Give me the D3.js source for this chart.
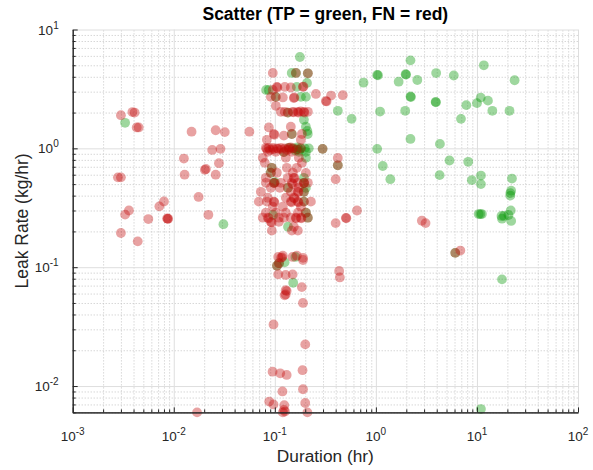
<!DOCTYPE html>
<html lang="en">
<head>
<meta charset="UTF-8">
<title>Scatter (TP = green, FN = red)</title>
<script src="https://d3js.org/d3.v7.min.js"></script>
<style>
    body {
        margin: 0;
        background: #fff;
        font-family: "Liberation Sans", Arial, Helvetica, sans-serif;
    }
    .grid path { display: none; }
    .grid-major line { stroke: #dedede; }
    .grid-minor line { stroke: #c4c4c4; stroke-dasharray: 1,2; }
    .axis path, .axis line { stroke: #262626; }
    text { fill: #262626; }
</style>
</head>
<body>
<div id="chart"></div>
<script>
// axis limits and decade tick exponents
const xLimits = [0.001, 100];
const yLimits = [0.006, 10];
const xDecades = [-3, -2, -1, 0, 1, 2];
const yDecades = [-2, -1, 0, 1];

// true positives: [duration (hr), leak rate (kg/hr)]
const tpPoints = [
    [0.0033, 1.64], [0.031, 0.23],
    [0.177, 5.87],
    [0.147, 4.31], [0.162, 4.31], [0.212, 4.28],
    [0.208, 3.55], [0.165, 3.29],
    [0.082, 3.10], [0.087, 3.10],
    [0.102, 2.71], [0.181, 2.71], [0.203, 2.71],
    [0.135, 2.00],
    [0.194, 1.74], [0.203, 1.52], [0.210, 1.40], [0.212, 1.32],
    [0.147, 1.32],
    [0.138, 1.01], [0.151, 1.00], [0.165, 0.98], [0.167, 1.02], [0.181, 1.00], [0.198, 1.00], [0.217, 1.00],
    [0.160, 0.96], [0.175, 0.97],
    [0.123, 0.93], [0.173, 0.935], [0.203, 0.935],
    [0.203, 0.832],
    [0.093, 0.686], [0.091, 0.623],
    [0.194, 0.565],
    [0.098, 0.513], [0.194, 0.513], [0.100, 0.52],
    [0.135, 0.466], [0.203, 0.466],
    [0.194, 0.431], [0.194, 0.356], [0.203, 0.287],
    [0.096, 0.275], [0.212, 0.261],
    [0.135, 0.219],
    [0.160, 0.122], [0.125, 0.110], [0.110, 0.108], [0.105, 0.103], [0.152, 0.074],
    [0.297, 0.99], [0.42, 2.07], [0.575, 1.77], [0.42, 0.72],
    [0.755, 3.57], [1.03, 4.15], [1.05, 4.12], [1.97, 4.20], [1.99, 4.17], [2.2, 5.5],
    [3.95, 4.30], [5.9, 4.10], [1.68, 3.64], [2.57, 3.76],
    [2.2, 2.73], [2.22, 2.70], [3.9, 2.46], [3.93, 2.44], [7.85, 2.31],
    [10.0, 2.40], [10.9, 2.67], [12.85, 2.52], [11.7, 5.0], [23.6, 3.74],
    [14.2, 2.07], [21.0, 2.07], [1.1, 2.04], [1.95, 2.07], [6.95, 1.77],
    [2.2, 1.20], [4.3, 1.09], [1.03, 0.99],
    [5.35, 0.79], [8.2, 0.77], [1.17, 0.71], [1.39, 0.55], [4.27, 0.595], [8.9, 0.54],
    [10.95, 0.59], [10.95, 0.50], [22.2, 0.557],
    [21.4, 0.42], [21.4, 0.40], [21.8, 0.44], [21.6, 0.30],
    [10.4, 0.28], [10.8, 0.28], [11.2, 0.28],
    [17.5, 0.27], [18.5, 0.27], [20.5, 0.275], [17.7, 0.256], [21.8, 0.245],
    [6.1, 0.132], [17.7, 0.079], [10.95, 0.0064]
];

// false negatives: [duration (hr), leak rate (kg/hr)]
const fnPoints = [
    [0.0030, 1.90], [0.0039, 2.02], [0.0041, 2.00], [0.0043, 1.50], [0.0045, 1.50],
    [0.015, 1.38], [0.026, 1.42], [0.032, 1.37], [0.056, 1.38],
    [0.024, 0.97], [0.029, 0.99], [0.0126, 0.82], [0.028, 0.75],
    [0.0203, 0.66], [0.0208, 0.67], [0.026, 0.60], [0.0128, 0.60],
    [0.0028, 0.57], [0.0030, 0.57], [0.0176, 0.39], [0.0080, 0.357], [0.0072, 0.325],
    [0.0036, 0.30], [0.0033, 0.277], [0.0056, 0.254],
    [0.0086, 0.257], [0.0087, 0.255], [0.0088, 0.256],
    [0.022, 0.276], [0.0030, 0.194], [0.0044, 0.165], [0.017, 0.006],
    [0.32, 2.50], [0.325, 2.48], [0.36, 2.78], [0.47, 2.80], [0.255, 2.87],
    [0.42, 0.83], [0.42, 0.72], [0.297, 0.99], [0.40, 0.55],
    [0.40, 0.235], [0.505, 0.26], [0.51, 0.258], [0.65, 0.30],
    [2.85, 0.246], [3.1, 0.235], [6.1, 0.132], [6.85, 0.138],
    [0.433, 0.093], [0.44, 0.082],
    [0.097, 0.033], [0.20, 0.0224], [0.188, 0.0136], [0.095, 0.0132], [0.113, 0.0128], [0.131, 0.0124],
    [0.119, 0.0090], [0.19, 0.0094], [0.088, 0.0074], [0.097, 0.0070], [0.124, 0.0069], [0.20, 0.0072],
    [0.123, 0.0063], [0.120, 0.0060], [0.126, 0.0061], [0.21, 0.0060],
    [0.185, 0.068], [0.19, 0.050], [0.128, 0.064], [0.131, 0.063], [0.128, 0.059], [0.125, 0.058],
    [0.128, 0.086], [0.15, 0.087], [0.108, 0.087],
    [0.108, 0.122], [0.115, 0.120], [0.120, 0.125], [0.118, 0.121], [0.11, 0.108],
    [0.15, 0.122], [0.165, 0.125], [0.19, 0.115], [0.19, 0.120], [0.105, 0.103],
    [0.0955, 4.31], [0.1615, 4.31], [0.2124, 4.28],
    [0.1047, 3.29], [0.106, 3.25], [0.1256, 3.29], [0.144, 3.25], [0.1895, 3.29], [0.192, 3.31],
    [0.0955, 3.10],
    [0.0913, 2.71], [0.1023, 2.71], [0.12, 2.68], [0.1542, 2.65], [0.156, 2.68],
    [0.1023, 2.28],
    [0.1147, 2.03], [0.1256, 2.03], [0.1345, 2.0], [0.1508, 2.03], [0.153, 2.01],
    [0.169, 2.03], [0.171, 2.0], [0.1938, 2.03], [0.196, 2.0], [0.2124, 2.03], [0.180, 2.05],
    [0.144, 1.52], [0.0873, 1.50],
    [0.0977, 1.32], [0.099, 1.30], [0.1474, 1.32], [0.1852, 1.32], [0.1228, 1.28],
    [0.0834, 1.18], [0.181, 1.18],
    [0.0815, 1.01], [0.083, 0.99], [0.0873, 1.01], [0.0955, 1.01], [0.097, 0.98], [0.1047, 1.0],
    [0.1147, 1.01], [0.116, 0.98], [0.1256, 1.0], [0.1376, 1.01], [0.139, 0.98], [0.1508, 1.0],
    [0.1652, 0.98], [0.181, 1.0], [0.090, 0.97], [0.108, 0.99], [0.131, 0.97], [0.143, 1.02],
    [0.0853, 0.935], [0.1023, 0.935], [0.1228, 0.93], [0.1474, 0.935],
    [0.076, 0.832], [0.1285, 0.832], [0.1729, 0.832],
    [0.0796, 0.755], [0.1852, 0.755],
    [0.0934, 0.686], [0.1315, 0.686], [0.1652, 0.686],
    [0.0913, 0.623], [0.1047, 0.623], [0.1508, 0.623], [0.2029, 0.62],
    [0.0815, 0.565], [0.1345, 0.565], [0.1542, 0.565], [0.156, 0.56],
    [0.0815, 0.513], [0.0977, 0.513], [0.099, 0.51], [0.1147, 0.513], [0.1474, 0.513],
    [0.169, 0.513], [0.1938, 0.513], [0.196, 0.51], [0.2124, 0.513], [0.150, 0.50],
    [0.0913, 0.466], [0.1121, 0.466], [0.1345, 0.466], [0.1729, 0.466],
    [0.0727, 0.431], [0.144, 0.431], [0.169, 0.431], [0.171, 0.428], [0.1938, 0.431],
    [0.0853, 0.384], [0.1285, 0.384], [0.1542, 0.384], [0.156, 0.38],
    [0.0695, 0.356], [0.0834, 0.356], [0.0977, 0.356], [0.099, 0.352], [0.144, 0.356],
    [0.146, 0.352], [0.169, 0.356], [0.171, 0.352], [0.1938, 0.356], [0.2275, 0.356],
    [0.0955, 0.323], [0.12, 0.323], [0.181, 0.323],
    [0.0815, 0.287], [0.1023, 0.287], [0.1285, 0.287], [0.169, 0.287], [0.2029, 0.287],
    [0.076, 0.261], [0.0853, 0.261], [0.087, 0.258], [0.1096, 0.261], [0.1228, 0.261],
    [0.144, 0.261], [0.1615, 0.261], [0.163, 0.258], [0.181, 0.261], [0.183, 0.258], [0.2124, 0.261],
    [0.0913, 0.241], [0.093, 0.238], [0.1096, 0.241],
    [0.1542, 0.219],
    [0.0934, 0.203], [0.1474, 0.203], [0.169, 0.203]
];

const width = 593, height = 470;
const margin = {top: 29.5, right: 15, bottom: 57.6, left: 72.7};
const innerW = width - margin.left - margin.right;
const innerH = height - margin.top - margin.bottom;

const svg = d3.select("#chart").append("svg")
    .attr("width", width)
    .attr("height", height);

const g = svg.append("g")
    .attr("transform", `translate(${margin.left},${margin.top})`);

const x = d3.scaleLog().domain(xLimits).range([0, innerW]);
const y = d3.scaleLog().domain(yLimits).range([innerH, 0]);

// minor positions 2..9 inside every decade that touches the limits
function minorTicks(lim) {
    const out = [];
    const lo = Math.floor(Math.log10(lim[0])), hi = Math.ceil(Math.log10(lim[1]));
    for (let d = lo; d < hi; d++) {
        for (let m = 2; m <= 9; m++) {
            const v = m * Math.pow(10, d);
            if (v >= lim[0] * 0.999 && v <= lim[1]) out.push(v);
        }
    }
    return out;
}
const xMajor = xDecades.map(e => Math.pow(10, e));
const yMajor = yDecades.map(e => Math.pow(10, e));
const xMinor = minorTicks(xLimits);
const yMinor = minorTicks(yLimits);

// grid lines
g.append("g").attr("class", "grid grid-minor")
    .attr("transform", `translate(0,${innerH})`)
    .call(d3.axisBottom(x).tickValues(xMinor).tickSize(-innerH).tickFormat(""));
g.append("g").attr("class", "grid grid-minor")
    .call(d3.axisLeft(y).tickValues(yMinor).tickSize(-innerW).tickFormat(""));
g.append("g").attr("class", "grid grid-major")
    .attr("transform", `translate(0,${innerH})`)
    .call(d3.axisBottom(x).tickValues(xMajor).tickSize(-innerH).tickFormat(""));
g.append("g").attr("class", "grid grid-major")
    .call(d3.axisLeft(y).tickValues(yMajor).tickSize(-innerW).tickFormat(""));

// points: TP first, FN drawn on top
function addPoints(data, color) {
    g.append("g")
        .selectAll("circle")
        .data(data)
        .enter()
        .append("circle")
        .attr("cx", d => x(d[0]))
        .attr("cy", d => y(d[1]))
        .attr("r", 4.9)
        .attr("fill", color)
        .attr("fill-opacity", 0.38);
}
addPoints(tpPoints, "#009600");
addPoints(fnPoints, "#c20a0a");

// axes with inward ticks
g.append("g").attr("class", "axis")
    .attr("transform", `translate(0,${innerH})`)
    .call(d3.axisBottom(x).tickValues(xMinor).tickSize(-3).tickSizeOuter(0).tickFormat(""));
g.append("g").attr("class", "axis")
    .attr("transform", `translate(0,${innerH})`)
    .call(d3.axisBottom(x).tickValues(xMajor).tickSize(-5).tickSizeOuter(0).tickFormat(""));
g.append("g").attr("class", "axis")
    .call(d3.axisLeft(y).tickValues(yMinor).tickSize(-3).tickSizeOuter(0).tickFormat(""));
g.append("g").attr("class", "axis")
    .call(d3.axisLeft(y).tickValues(yMajor).tickSize(-5).tickSizeOuter(0).tickFormat(""));

// power-of-ten tick labels
function powLabel(sel, e) {
    sel.append("tspan").text("10");
    sel.append("tspan").attr("dy", -6).attr("font-size", "10px").text(e);
}
xDecades.forEach(e => {
    g.append("text")
        .attr("x", x(Math.pow(10, e)))
        .attr("y", innerH + 29)
        .attr("text-anchor", "middle")
        .attr("font-size", "13.5px")
        .call(powLabel, e);
});
yDecades.forEach(e => {
    g.append("text")
        .attr("x", -14)
        .attr("y", y(Math.pow(10, e)) + 5)
        .attr("text-anchor", "end")
        .attr("font-size", "13.5px")
        .call(powLabel, e);
});

// title and axis labels
svg.append("text")
    .attr("x", margin.left + innerW / 2)
    .attr("y", 19.5)
    .attr("text-anchor", "middle")
    .attr("font-size", "17.5px")
    .attr("font-weight", "bold")
    .style("fill", "#000")
    .text("Scatter (TP = green, FN = red)");

svg.append("text")
    .attr("x", margin.left + innerW / 2)
    .attr("y", 461.5)
    .attr("text-anchor", "middle")
    .attr("font-size", "17.3px")
    .text("Duration (hr)");

svg.append("text")
    .attr("transform", `translate(27.5,${margin.top + innerH / 2}) rotate(-90)`)
    .attr("text-anchor", "middle")
    .attr("font-size", "17.5px")
    .text("Leak Rate (kg/hr)");
</script>
</body>
</html>
